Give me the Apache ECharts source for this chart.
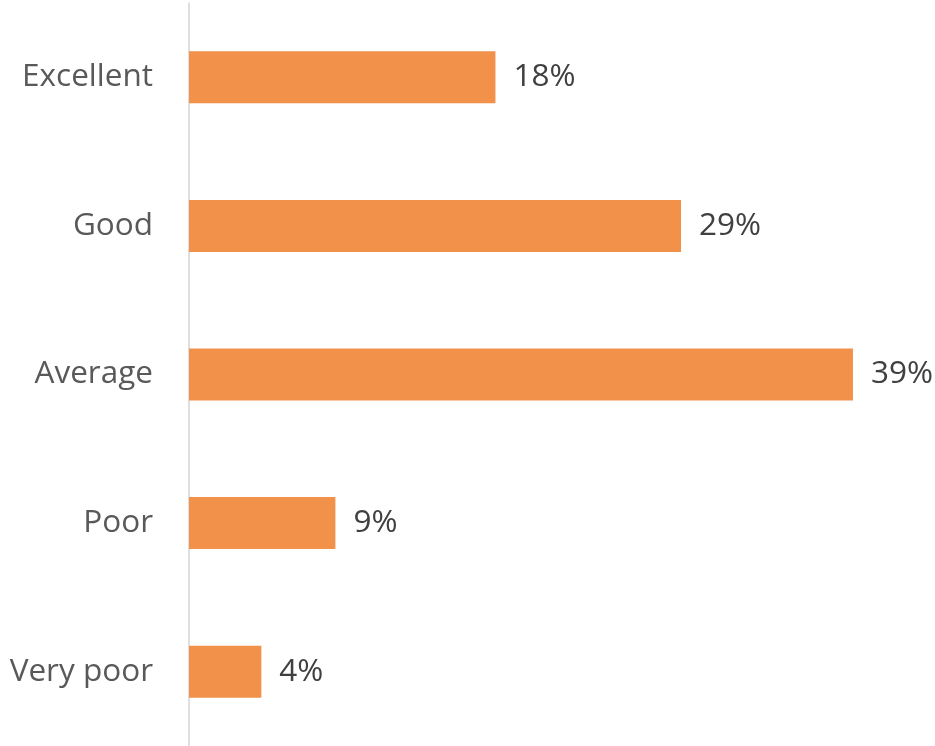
<!DOCTYPE html>
<html>
<head>
<meta charset="utf-8">
<script src="https://cdn.jsdelivr.net/npm/echarts@6/dist/echarts.min.js"></script>
<style>
html,body{margin:0;padding:0;background:#fff;}
#chart{width:935px;height:746px;}
</style>
</head>
<body>
<div id="chart"></div>
<script>
const categories = ["Excellent", "Good", "Average", "Poor", "Very poor"];
const values = [18.0, 28.9, 39.0, 8.6, 4.25];
const valueLabels = ["18%", "29%", "39%", "9%", "4%"];

const chart = echarts.init(document.getElementById('chart'));
chart.setOption({
  animation: false,
  grid: { left: 189, right: 65, top: 3, bottom: 0, containLabel: false },
  xAxis: {
    type: 'value', min: 0, max: 40,
    show: false
  },
  yAxis: {
    type: 'category',
    data: categories,
    inverse: true,
    axisLine: { show: true, lineStyle: { color: '#d4d4d4', width: 1.5 } },
    axisTick: { show: false },
    axisLabel: { margin: 36, color: '#595959', fontFamily: 'Open Sans', fontSize: 31.5 }
  },
  series: [{
    type: 'bar',
    data: values,
    barWidth: 52,
    itemStyle: { color: '#F1914A' },
    label: {
      show: true, position: 'right', distance: 18,
      color: '#404040', fontFamily: 'Open Sans', fontSize: 31.5,
      formatter: p => valueLabels[p.dataIndex]
    }
  }]
});
</script>
</body>
</html>
